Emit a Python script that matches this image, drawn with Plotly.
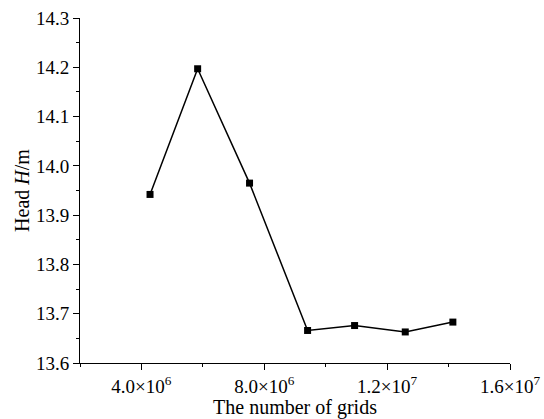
import plotly.graph_objects as go

grids = [4.28e6, 5.83e6, 7.52e6, 9.41e6, 10.94e6, 12.59e6, 14.14e6]
head = [13.942, 14.197, 13.965, 13.666, 13.676, 13.663, 13.683]
x_tickvals = [4.0e6, 8.0e6, 1.2e7, 1.6e7]
x_ticktext = ["4.0×10<sup>6</sup>", "8.0×10<sup>6</sup>", "1.2×10<sup>7</sup>", "1.6×10<sup>7</sup>"]
y_tickvals = [13.6, 13.7, 13.8, 13.9, 14.0, 14.1, 14.2, 14.3]
y_ticktext = ["13.6", "13.7", "13.8", "13.9", "14.0", "14.1", "14.2", "14.3"]

font = "Liberation Serif, Times New Roman, serif"

fig = go.Figure(go.Scatter(
    x=grids, y=head, mode="lines+markers",
    line=dict(color="black", width=1.5),
    marker=dict(symbol="square", size=7, color="black"),
))

fig.update_layout(
    width=544, height=419,
    margin=dict(l=80, r=34, t=18, b=56),
    plot_bgcolor="white", paper_bgcolor="white",
    showlegend=False,
    font=dict(family=font, size=19, color="black"),
)
fig.update_xaxes(
    range=[2e6, 1.6e7], tickmode="array", tickvals=x_tickvals, ticktext=x_ticktext,
    showgrid=False, zeroline=False, showline=True, linecolor="black", linewidth=1,
    ticks="outside", ticklen=6, tickcolor="black", automargin=False,
    minor=dict(ticks="outside", tick0=0, dtick=2e6, ticklen=3, tickcolor="black", showgrid=False),
    title=dict(text="The number of grids", standoff=0, font=dict(size=20)),
    tickfont=dict(size=19),
)
fig.update_yaxes(
    range=[13.6, 14.3], tickmode="array", tickvals=y_tickvals, ticktext=y_ticktext,
    showgrid=False, zeroline=False, showline=True, linecolor="black", linewidth=1,
    ticks="outside", ticklen=6, tickcolor="black", automargin=False,
    minor=dict(ticks="outside", tick0=13.6, dtick=0.05, ticklen=3, tickcolor="black", showgrid=False),
    title=dict(text="Head <i>H</i>/m", standoff=0, font=dict(size=20)),
    tickfont=dict(size=19),
)

fig.write_html("out.html", config={"displayModeBar": False},
               post_script="document.body.style.margin='0';")
